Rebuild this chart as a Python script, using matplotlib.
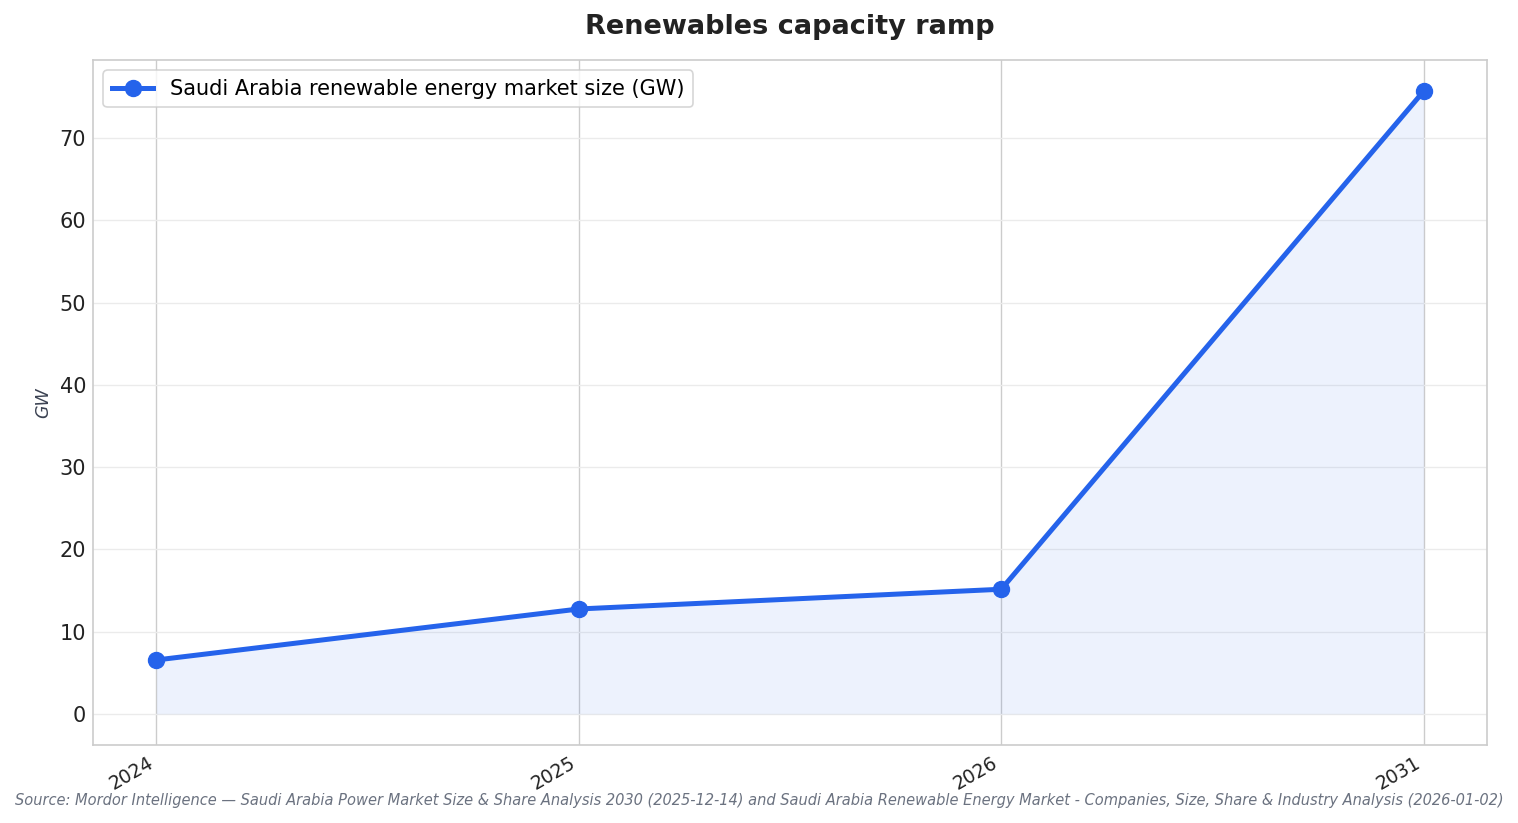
import matplotlib
matplotlib.use("Agg")
import matplotlib.pyplot as plt
import numpy as np

# --- data -------------------------------------------------------------------
years = ["2024", "2025", "2026", "2031"]
capacity_gw = [6.55, 12.75, 15.15, 75.7]
series_label = "Saudi Arabia renewable energy market size (GW)"
source_note = ("Source: Mordor Intelligence \u2014 Saudi Arabia Power Market Size & Share "
               "Analysis 2030 (2025-12-14) and Saudi Arabia Renewable Energy Market - "
               "Companies, Size, Share & Industry Analysis (2026-01-02)")

blue = "#2563EB"

fig = plt.figure(figsize=(15.18, 8.23), dpi=100)
ax = fig.add_axes([0.0613, 0.0948, 0.9183, 0.8322])

x = np.arange(len(years))
ax.fill_between(x, 0, capacity_gw, color=blue, alpha=0.08, lw=0)
ax.plot(x, capacity_gw, color=blue, lw=3.6, marker="o", ms=11.5,
        label=series_label, zorder=3)

ax.set_xticks(x)
ax.set_xticklabels(years, rotation=30, ha="right", fontsize=13.5, color="#222222")
ax.tick_params(axis="y", labelsize=15, colors="#222222", length=0, pad=5)
ax.tick_params(axis="x", length=0, pad=6)

ax.grid(axis="x", color="#cccccc", lw=1.0)
ax.grid(axis="y", color="#ebebeb", lw=1.0)
ax.set_axisbelow(True)
for s in ax.spines.values():
    s.set_color("#cccccc")
    s.set_linewidth(1.2)

ax.set_ylabel("GW", fontsize=12.5, style="italic", color="#3b4252", labelpad=5)
ax.set_title("Renewables capacity ramp", fontsize=19.5, fontweight="bold",
             color="#222222", pad=19)

leg = ax.legend(loc="upper left", fontsize=15, frameon=True, borderpad=0.4,
                handlelength=2.0)
leg.get_frame().set_edgecolor("#cccccc")
leg.get_frame().set_linewidth(1.2)

fig.text(0.5, 0.027, source_note, ha="center", va="center", fontsize=10.5,
         style="italic", color="#6b7280")

fig.savefig("out.png", dpi=100)
